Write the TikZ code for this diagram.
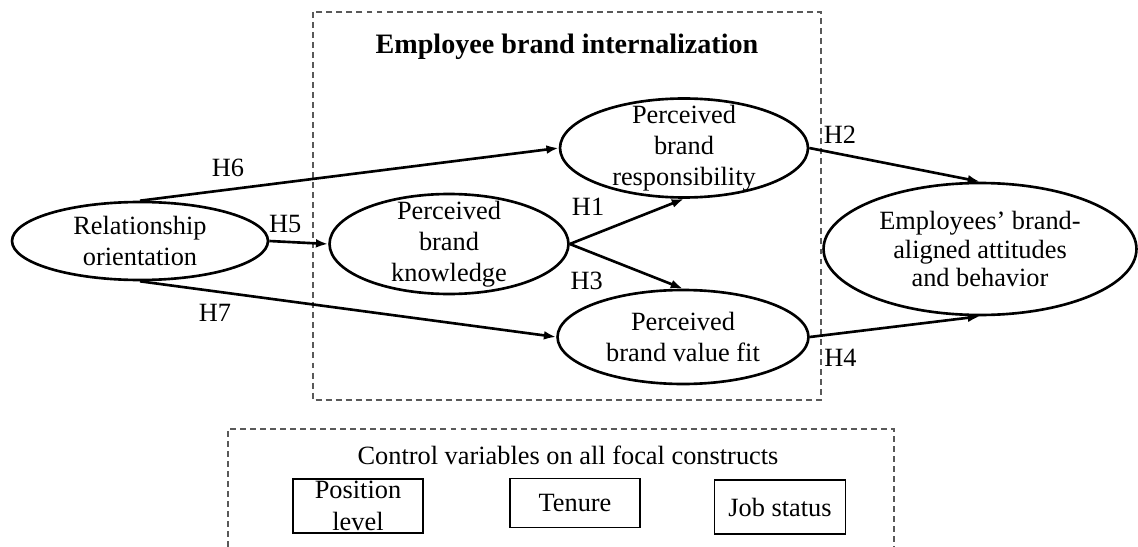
\documentclass[tikz,border=0pt]{standalone}
\usepackage{fontspec}
\setmainfont{Liberation Serif}
\usetikzlibrary{arrows.meta,positioning,shapes.geometric}

\begin{document}
\begin{tikzpicture}[x=0.02cm,y=-0.02cm,
  every node/.style={font=\fontsize{15}{17.8}\selectfont},
  >={Latex[length=7pt,width=5pt]},
  construct/.style={ellipse,draw,line width=1.5pt,inner sep=0pt},
  ctext/.style={align=center,inner sep=0pt},
  ctrl/.style={draw,line width=0.6pt,inner sep=0pt,align=center},
  link/.style={->,line width=1.5pt},
  frame/.style={draw=black!65,line width=0.6pt,dash pattern=on 3.4pt off 2.3pt}]
  \useasboundingbox (0,0) rectangle (1138,547);

  % internalization block and control block
  \draw[frame] (313,12) rectangle (821,400);
  \node[font=\fontsize{16}{18}\selectfont\bfseries] (ebi) at (567,47) {Employee brand internalization};
  \draw[frame] (228,547) |- (894,429) -- (894,547);
  \node (cvtitle) at (568,455) {Control variables on all focal constructs};

  % constructs
  \node[construct,minimum width=5.12cm,minimum height=1.56cm] (rel) at (140,241) {};
  \node[ctext] (rel-t) at (rel) {Relationship\\orientation};
  \node[construct,minimum width=4.78cm,minimum height=2.0cm] (know) at (449,244) {};
  \node[ctext] (know-t) at (know) {Perceived\\brand\\knowledge};
  \node[construct,minimum width=4.96cm,minimum height=1.98cm] (resp) at (684,148) {};
  \node[ctext] (resp-t) at (resp) {Perceived\\brand\\responsibility};
  \node[construct,minimum width=5.02cm,minimum height=1.88cm] (fit) at (683,337) {};
  \node[ctext] (fit-t) at (fit) {Perceived\\brand value fit};
  \node[construct,minimum width=6.26cm,minimum height=2.64cm] (emp) at (980,249) {};
  \node[ctext,font=\fontsize{15}{16.4}\selectfont] (emp-t) at (emp) {Employees' brand-\\aligned attitudes\\and behavior};

  % control variables
  \node[ctrl,minimum width=2.6cm,minimum height=1.08cm] (pos) at (358,506) {Position\\level};
  \node[ctrl,minimum width=2.6cm,minimum height=0.98cm] (ten) at (575,503) {Tenure};
  \node[ctrl,minimum width=2.62cm,minimum height=1.08cm] (job) at (780,507) {Job status};

  % hypothesised paths
  \draw[link] (rel.north) -- (resp.west) node[pos=0.21,above=3pt] {H6};
  \draw[link] (rel.east) -- (know.west) node[pos=0.27,above=1pt] {H5};
  \draw[link] (rel.south) -- (fit.west) node[pos=0.18,below=3pt] {H7};
  \draw[link] (know.east) -- (resp.south) node[pos=0.16,above=8pt] {H1};
  \draw[link] (know.east) -- (fit.north) node[pos=0.15,below=8pt] {H3};
  \draw[link] (resp.east) -- (emp.north) node[pos=0.18,above=2pt] {H2};
  \draw[link] (fit.east) -- (emp.south) node[pos=0.18,below=5pt] {H4};
\end{tikzpicture}
\end{document}
